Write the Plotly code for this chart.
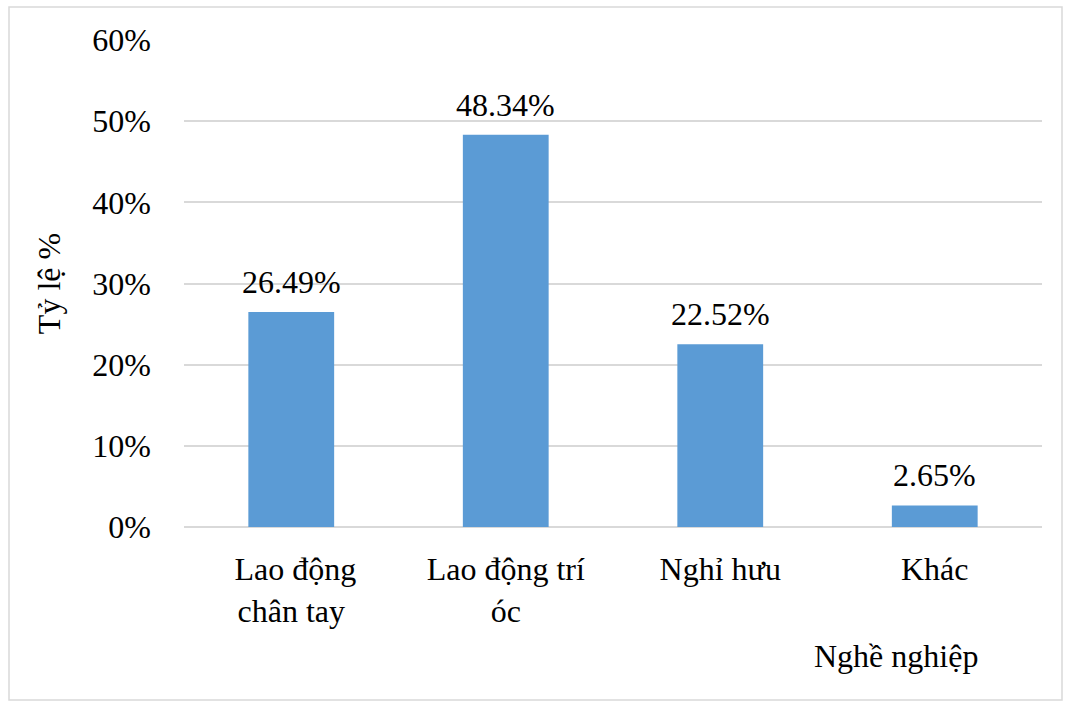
import plotly.graph_objects as go

# Occupation categories and their shares (%)
categories = [" Lao động<br>chân tay", "Lao động trí<br>óc", "Nghỉ hưu", "Khác"]
shares = [26.49, 48.34, 22.52, 2.65]
value_labels = ["26.49%", "48.34%", "22.52%", "2.65%"]

FONT = "'Times New Roman', 'Liberation Serif', 'DejaVu Serif', serif"
FS = 32
W, H = 1065, 704
L, R, T, B = 184, 23, 40, 177

fig = go.Figure(
    go.Bar(
        x=categories,
        y=shares,
        marker=dict(color="#5B9BD5", line=dict(width=0)),
        width=0.4,
    )
)

pw, ph = W - L - R, H - T - B


def px_to_paper(x, y):
    return (x - L) / pw, (H - B - y) / ph


x0, y0 = px_to_paper(9, 700)
x1, y1 = px_to_paper(1062, 7)

# value labels above each bar
annotations = [
    dict(
        x=c,
        y=v,
        xref="x",
        yref="y",
        text=t,
        showarrow=False,
        xanchor="center",
        yanchor="bottom",
        yshift=10,
        font=dict(family=FONT, size=FS, color="#000000"),
    )
    for c, v, t in zip(categories, shares, value_labels)
]
annotations.append(
    dict(
        text="Nghề nghiệp",
        xref="paper",
        yref="paper",
        x=px_to_paper(896, 0)[0],
        y=px_to_paper(0, 656)[1],
        showarrow=False,
        xanchor="center",
        yanchor="middle",
        font=dict(family=FONT, size=FS, color="#000000"),
    )
)

fig.update_layout(
    width=W,
    height=H,
    margin=dict(l=L, r=R, t=T, b=B),
    paper_bgcolor="#FFFFFF",
    plot_bgcolor="#FFFFFF",
    font=dict(family=FONT, size=FS, color="#000000"),
    showlegend=False,
    xaxis=dict(
        showgrid=False,
        showline=False,
        ticks="",
        tickfont=dict(family=FONT, size=FS, color="#000000"),
        ticklabelstandoff=20,
    ),
    yaxis=dict(
        range=[0, 60],
        dtick=10,
        ticksuffix="%",
        showgrid=True,
        gridcolor="#D9D9D9",
        gridwidth=1.5,
        zeroline=True,
        zerolinecolor="#D9D9D9",
        zerolinewidth=1.5,
        showline=False,
        ticks="",
        ticklabelstandoff=32,
        tickfont=dict(family=FONT, size=FS, color="#000000"),
        title=dict(text="Tỷ lệ %", font=dict(family=FONT, size=FS), standoff=22),
    ),
    shapes=[
        dict(
            type="rect",
            xref="paper",
            yref="paper",
            x0=x0,
            y0=y0,
            x1=x1,
            y1=y1,
            line=dict(color="#D9D9D9", width=1.5),
            fillcolor="rgba(0,0,0,0)",
            layer="below",
        )
    ],
    annotations=annotations,
)

fig.write_html("out.html")
